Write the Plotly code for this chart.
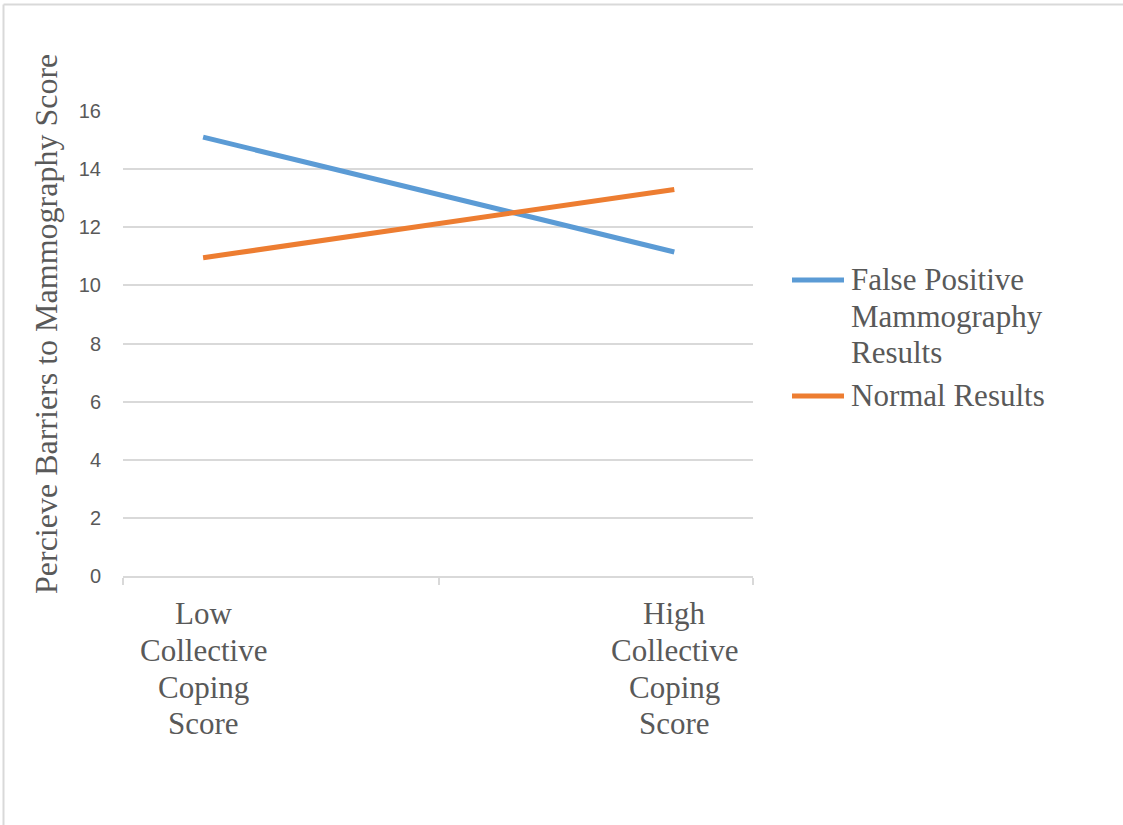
import plotly.graph_objects as go

categories = ["Low<br>Collective<br>Coping<br>Score", "High<br>Collective<br>Coping<br>Score"]
cat_pos = [0, 1]
false_positive = [15.1, 11.15]
normal_results = [10.95, 13.3]
series_names = ["False Positive<br>Mammography<br>Results", "Normal Results"]
series_colors = ["#5b9bd5", "#ed7d31"]
y_ticks = [0, 2, 4, 6, 8, 10, 12, 14, 16]
y_title = "Percieve Barriers to Mammography Score"

SERIF = "Liberation Serif, Times New Roman, serif"
SANS = "Liberation Sans, Arial, sans-serif"
GRAY = "#595959"
GRID = "#d9d9d9"

W, H = 1123, 825
L, R, T, B = 123, 370, 111, 249
PW, PH = W - L - R, H - T - B


def px_x(px):
    return (px - L) / PW


def px_y(py):
    return (H - B - py) / PH


fig = go.Figure()
for name, vals, col in zip(series_names, [false_positive, normal_results], series_colors):
    fig.add_trace(go.Scatter(x=cat_pos, y=vals, mode="lines", name=name,
                             line=dict(color=col, width=5), showlegend=False))

xmin, xmax = -0.17, 1.167
fig.update_layout(
    width=W, height=H,
    margin=dict(l=L, r=R, t=T, b=B),
    paper_bgcolor="white", plot_bgcolor="white",
    showlegend=False,
    xaxis=dict(range=[xmin, xmax], tickvals=cat_pos, ticktext=["", ""],
               showgrid=False, zeroline=False, showline=True, linecolor=GRID, linewidth=1.5,
               ticks="",
               minor=dict(tickvals=[xmin, 0.5, xmax], ticks="outside", ticklen=7,
                          tickcolor=GRID, tickwidth=1.5, showgrid=False),
               fixedrange=True),
    yaxis=dict(range=[0, 16], tickvals=y_ticks, showgrid=True, gridcolor=GRID, gridwidth=1.5,
               zeroline=False, showline=False, ticks="",
               tickfont=dict(family=SANS, size=20, color=GRAY), ticklabelstandoff=21,
               fixedrange=True),
)

# y-axis title
fig.add_annotation(text=y_title, xref="paper", yref="paper", x=px_x(46), y=px_y(324),
                   textangle=-90, showarrow=False, xanchor="center", yanchor="middle",
                   font=dict(family=SERIF, size=32, color=GRAY))

# category labels (one annotation per line for Excel-like line spacing)
line_centers = [613, 650, 687, 723]
for xp, cat in zip(cat_pos, categories):
    for ln, cy in zip(cat.split("<br>"), line_centers):
        fig.add_annotation(text=ln, xref="x", yref="paper", x=xp, y=px_y(cy),
                           showarrow=False, xanchor="center", yanchor="middle",
                           font=dict(family=SERIF, size=31, color=GRAY))

# legend (Excel style: long keys, tight line spacing)
legend_rows = [[279, 316, 352], [395]]
key_y = [280, 396]
for name, col, rows, ky in zip(series_names, series_colors, legend_rows, key_y):
    fig.add_shape(type="line", xref="paper", yref="paper", x0=px_x(792), x1=px_x(844),
                  y0=px_y(ky), y1=px_y(ky), line=dict(color=col, width=5))
    for ln, cy in zip(name.split("<br>"), rows):
        fig.add_annotation(text=ln, xref="paper", yref="paper", x=px_x(849), y=px_y(cy),
                           showarrow=False, xanchor="left", yanchor="middle",
                           font=dict(family=SERIF, size=31, color=GRAY))

# outer chart border (left and top only, as in the reference)
fig.add_shape(type="line", xref="paper", yref="paper", x0=px_x(3.5), x1=px_x(3.5),
              y0=px_y(830), y1=px_y(4.5), line=dict(color=GRID, width=2))
fig.add_shape(type="line", xref="paper", yref="paper", x0=px_x(3.5), x1=px_x(1130),
              y0=px_y(4.5), y1=px_y(4.5), line=dict(color=GRID, width=2))

fig.write_html("out.html")
